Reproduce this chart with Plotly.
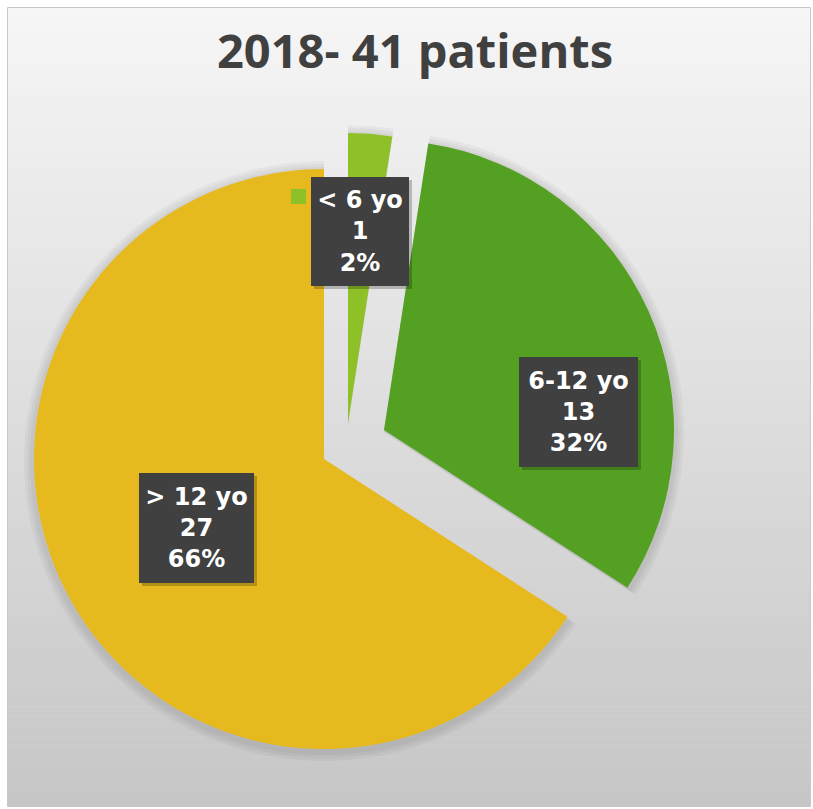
import plotly.graph_objects as go

# ---- data ----
categories = ["< 6 yo", "6-12 yo", "> 12 yo"]
patients = [1, 13, 27]
title_text = "2018- 41 patients"

# ---- style ----
slice_colors = ["#8EC127", "#54A022", "#E6B91E"]
W, H = 813, 809
R = 290
# pixel centres of each (exploded) slice
centres = [(348, 423), (384, 430), (324, 459)]
# label boxes: centre x, centre y, width, height (pixels)
boxes = [(360, 231.5, 98, 109), (578.5, 412, 119, 110), (196.5, 528, 115, 110)]


def px(x):
    return x / W


def py(y):
    return 1 - y / H


fig = go.Figure()

# soft shadow under the slices
for grow in (10, 7, 4):
    for i, (cx, cy) in enumerate(centres):
        cols = ["rgba(0,0,0,0)"] * len(patients)
        cols[i] = "rgba(0,0,0,0.035)"
        r = R + grow
        cyy = cy + 2
        fig.add_trace(go.Pie(
            labels=categories, values=patients, sort=False,
            direction="clockwise", rotation=0,
            marker=dict(colors=cols, line=dict(width=0)),
            textinfo="none", hoverinfo="skip", showlegend=False,
            domain=dict(x=[px(cx - r), px(cx + r)], y=[py(cyy + r), py(cyy - r)]),
        ))

# one trace per visible slice so each slice can be offset like Excel's explosion
for i, (cx, cy) in enumerate(centres):
    cols = ["rgba(0,0,0,0)"] * len(patients)
    cols[i] = slice_colors[i]
    fig.add_trace(go.Pie(
        labels=categories,
        values=patients,
        sort=False,
        direction="clockwise",
        rotation=0,
        marker=dict(colors=cols, line=dict(width=0)),
        textinfo="none",
        hoverinfo="skip",
        showlegend=False,
        domain=dict(x=[px(cx - R), px(cx + R)], y=[py(cy + R), py(cy - R)]),
    ))

shapes = []
# background gradient inside chart area
top, bottom = 8, 806
n = 80
c0, c1 = 246, 198
for k in range(n):
    y0 = top + (bottom - top) * k / n
    y1 = top + (bottom - top) * (k + 1) / n + 0.6
    c = round(c0 + (c1 - c0) * (k + 0.5) / n)
    shapes.append(dict(type="rect", xref="paper", yref="paper",
                       x0=px(8), x1=px(810), y0=py(y1), y1=py(y0),
                       fillcolor=f"rgb({c},{c},{c})", line=dict(width=0), layer="below"))
# chart border
shapes.append(dict(type="rect", xref="paper", yref="paper",
                   x0=px(7.5), x1=px(810.5), y0=py(806.5), y1=py(7.5),
                   line=dict(color="#C8C8C8", width=1), fillcolor="rgba(0,0,0,0)", layer="below"))

total = sum(patients)
annotations = []
for i, (bx, by, bw, bh) in enumerate(boxes):
    # soft shadow
    shapes.append(dict(type="rect", xref="paper", yref="paper",
                       x0=px(bx - bw / 2 + 3), x1=px(bx + bw / 2 + 3),
                       y0=py(by + bh / 2 + 3), y1=py(by - bh / 2 + 3),
                       fillcolor="rgba(0,0,0,0.22)", line=dict(width=0), layer="above"))
    pct = round(patients[i] / total * 100)
    annotations.append(dict(
        x=px(bx), y=py(by), xref="paper", yref="paper",
        xanchor="center", yanchor="middle",
        text=f"{categories[i]}<br>{patients[i]}<br>{pct}%",
        showarrow=False, align="center", valign="middle",
        width=bw, height=bh, borderpad=0, borderwidth=0,
        bgcolor="#404040",
        font=dict(family="DejaVu Sans", size=24, color="white", weight="bold"),
    ))

# legend key inside the small-slice label
shapes.append(dict(type="rect", xref="paper", yref="paper",
                   x0=px(291), x1=px(306), y0=py(204), y1=py(189),
                   fillcolor=slice_colors[0], line=dict(width=0), layer="above"))

fig.update_layout(
    width=W, height=H,
    margin=dict(l=0, r=0, t=0, b=0),
    paper_bgcolor="white",
    plot_bgcolor="white",
    title=dict(text=title_text, x=px(415), y=py(52), xanchor="center", yanchor="middle",
               xref="paper", yref="container",
               font=dict(family="Open Sans", size=47, color="#404040", weight="bold")),
    shapes=shapes,
    annotations=annotations,
)

fig.write_html("out.html", config={"displayModeBar": False},
               post_script="document.body.style.margin='0';")
